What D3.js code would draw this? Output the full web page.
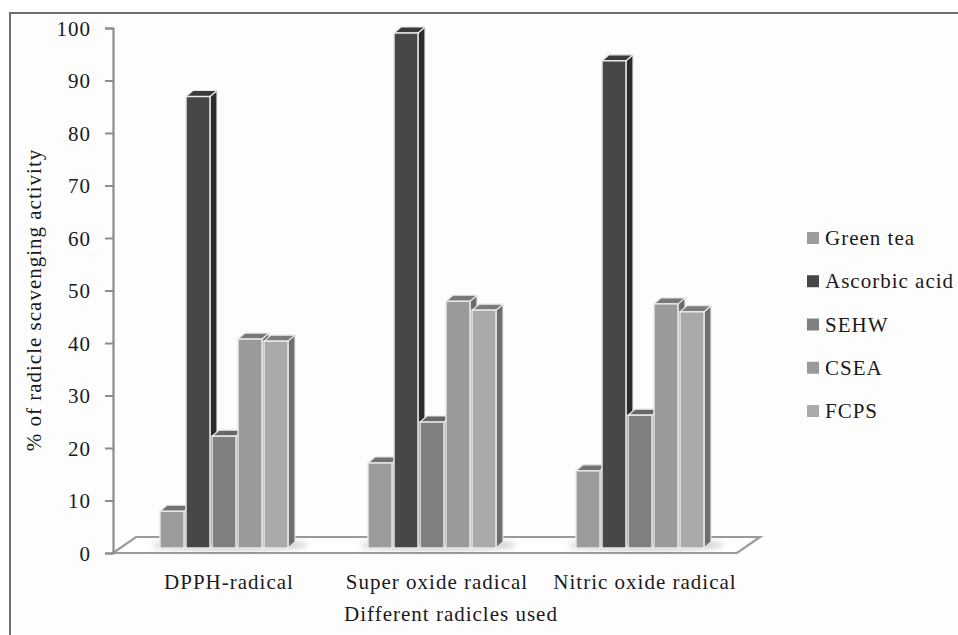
<!DOCTYPE html>
<html>
<head>
<meta charset="utf-8">
<script src="https://cdn.jsdelivr.net/npm/d3@7"></script>
<style>
  html, body { margin: 0; padding: 0; background: #ffffff; }
  svg { display: block; }
  svg text { fill: #1a1a1a; }
</style>
</head>
<body>
<svg id="chart" width="958" height="635"></svg>
<script>
// ---- data ----
const categories = ["DPPH-radical", "Super oxide radical", "Nitric oxide radical"];
const seriesNames = ["Green tea", "Ascorbic acid", "SEHW", "CSEA", "FCPS"];
const greenTea     = [7.0, 16.2, 14.7];
const ascorbicAcid = [86.0, 98.1, 92.8];
const sehw         = [21.3, 24.0, 25.3];
const csea         = [39.8, 47.0, 46.5];
const fcps         = [39.4, 45.3, 45.0];
const yTicks = [0, 10, 20, 30, 40, 50, 60, 70, 80, 90, 100];
const yTitle = "% of radicle scavenging activity";
const xTitle = "Different radicles used";

const seriesValues = [greenTea, ascorbicAcid, sehw, csea, fcps];
const frontColors = ["#9b9b9b", "#474747", "#808080", "#9a9a9a", "#a9a9a9"];
const sideColors  = ["#6a6a6a", "#2c2c2c", "#5c5c5c", "#6c6c6c", "#6e6e6e"];
const topColors   = ["#727272", "#3a3a3a", "#676767", "#787878", "#7c7c7c"];
const legendColors = ["#9c9c9c", "#474747", "#808080", "#9a9a9a", "#aaaaaa"];

const FONT = '"Liberation Serif", "Noto Serif", "FreeSerif", "DejaVu Serif", serif';
const FS = 21;
const svg = d3.select("#chart");

// frame
svg.append("rect").attr("x", 10).attr("y", 13).attr("width", 960).attr("height", 640)
  .attr("fill", "#fdfdfd").attr("stroke", "#6e6e6e").attr("stroke-width", 2);

// geometry
const axisX = 113;
const floorDx = 23, floorDy = -16;
const barPlaneDx = 8;
const sideDx = 7, sideDy = -6;

const x = d3.scaleBand().domain(categories).range([axisX, axisX + 624]).padding(0);
const inner = d3.scaleBand().domain(seriesNames).range([0, 130]).padding(0);
const y = d3.scaleLinear().domain([0, 100]).range([553, 28]);       // front-plane axis
const yBar = d3.scaleLinear().domain([0, 100]).range([548, 23]);    // bar front plane

// floor
const fx0 = axisX, fx1 = axisX + 624, fy = y(0);
svg.append("polygon")
  .attr("points", [[fx0, fy], [fx1, fy], [fx1 + floorDx, fy + floorDy], [fx0 + floorDx, fy + floorDy]].map(p => p.join(",")).join(" "))
  .attr("fill", "#ffffff").attr("stroke", "#9a9a9a").attr("stroke-width", 2.2).attr("stroke-linejoin", "miter");

// shadows
const defs = svg.append("defs");
defs.append("filter").attr("id", "blur").attr("x", "-50%").attr("y", "-200%").attr("width", "200%").attr("height", "500%")
  .append("feGaussianBlur").attr("stdDeviation", 3);

categories.forEach((c) => {
  const gx = x(c) + (x.bandwidth() - 130) / 2 + barPlaneDx;
  svg.append("ellipse").attr("cx", gx + 70).attr("cy", yBar(0) - 3).attr("rx", 78).attr("ry", 4)
    .attr("fill", "#7a7a7a").attr("opacity", 0.55).attr("filter", "url(#blur)");
});

// y axis
const yAxis = d3.axisLeft(y).tickValues(yTicks).tickSize(8).tickPadding(14).tickFormat(d3.format("d"));
const ga = svg.append("g").attr("transform", `translate(${axisX},0)`).call(yAxis)
  .attr("font-family", FONT).attr("font-size", FS);
ga.select(".domain").attr("stroke", "#8c8c8c").attr("stroke-width", 2.2);
ga.selectAll(".tick line").attr("stroke", "#8c8c8c").attr("stroke-width", 2);
ga.selectAll(".tick text").attr("letter-spacing", "1px")
  .attr("fill", "#1a1a1a").attr("dy", "0.35em");

// bars
const bw = 24;
categories.forEach((c, ci) => {
  const gx = x(c) + (x.bandwidth() - 130) / 2 + barPlaneDx;
  seriesNames.forEach((s, si) => {
    const v = seriesValues[si][ci];
    const x0 = gx + inner(s), x1 = x0 + bw;
    const yt = yBar(v), yb = yBar(0);
    const g = svg.append("g");
    g.append("polygon")
      .attr("points", [[x1, yt], [x1 + sideDx, yt + sideDy], [x1 + sideDx, yb + sideDy], [x1, yb]].map(p => p.join(",")).join(" "))
      .attr("fill", sideColors[si]).attr("stroke", "#e6e6e6").attr("stroke-width", 1.2).attr("stroke-linejoin", "round");
    g.append("polygon")
      .attr("points", [[x0, yt], [x0 + sideDx, yt + sideDy], [x1 + sideDx, yt + sideDy], [x1, yt]].map(p => p.join(",")).join(" "))
      .attr("fill", topColors[si]).attr("stroke", "#e6e6e6").attr("stroke-width", 1.2).attr("stroke-linejoin", "round");
    g.append("rect").attr("x", x0).attr("y", yt).attr("width", bw).attr("height", yb - yt)
      .attr("fill", frontColors[si]).attr("stroke", "#e8e8e8").attr("stroke-width", 1.5);
  });
});

// category labels
svg.append("g").attr("font-family", FONT).selectAll("text").data(categories).join("text")
  .attr("x", d => x(d) + x.bandwidth() / 2 + 12)
  .attr("y", 589)
  .attr("text-anchor", "middle")
  .attr("font-size", FS).attr("letter-spacing", "1px")
  .text(d => d);

// axis titles
svg.append("text").attr("x", 451).attr("y", 621).attr("text-anchor", "middle").attr("font-family", FONT)
  .attr("font-size", FS).attr("letter-spacing", "1px").text(xTitle);
svg.append("text").attr("transform", "translate(41,300) rotate(-90)").attr("text-anchor", "middle").attr("font-family", FONT)
  .attr("font-size", FS).attr("letter-spacing", "1px").text(yTitle);

// legend
const legendY = d3.scalePoint().domain(seriesNames).range([238, 411]);
const lg = svg.append("g").attr("font-family", FONT);
seriesNames.forEach((s, i) => {
  lg.append("rect").attr("x", 807).attr("y", legendY(s) - 6).attr("width", 12).attr("height", 12)
    .attr("fill", legendColors[i]);
  lg.append("text").attr("x", 825).attr("y", legendY(s) + 7)
    .attr("font-size", FS).attr("letter-spacing", "1px").text(s);
});
</script>
</body>
</html>
